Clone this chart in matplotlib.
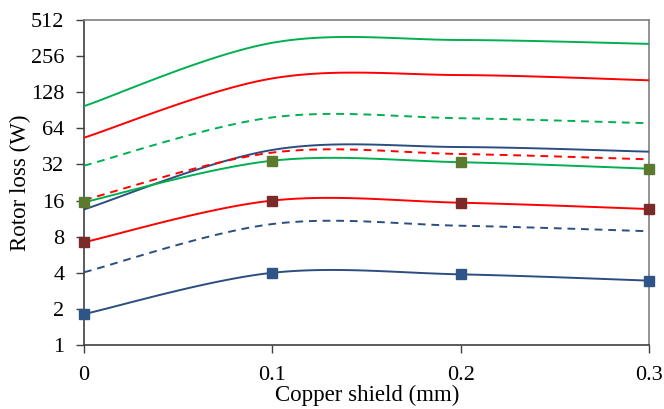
import numpy as np
import matplotlib
matplotlib.use("Agg")
import matplotlib.pyplot as plt

plt.rcParams['font.family'] = ['Liberation Serif', 'DejaVu Serif']

# copper shield thickness (mm)
shield = [0.0, 0.1, 0.2, 0.3]

# rotor loss (W)
green_top = [98, 331, 349, 324]
red_top = [53.5, 167, 178, 161]
green_dash = [31.3, 79, 77.7, 70.6]
blue_mid = [13.5, 42.3, 44.7, 40.9]
red_dash = [16.2, 40.2, 39.1, 35.3]
green_mark = [15.5, 34.4, 33.4, 29.5]
red_mark = [7.19, 16.0, 15.35, 13.6]
blue_dash = [4.04, 10.2, 9.87, 8.88]
blue_mark = [1.81, 4.0, 3.88, 3.44]

yticks = [1, 2, 4, 8, 16, 32, 64, 128, 256, 512]
xticks = [0, 0.1, 0.2, 0.3]

GREEN = '#00B050'
RED = '#FF0000'
BLUE = '#2C4D7F'


def smooth(xs, ys, n=40):
    # excel style bezier smoothing, done in (x, log2 y) space
    px = np.array(xs, float)
    py = np.log2(np.array(ys, float))
    outx, outy = [], []
    m = len(px)
    for i in range(m - 1):
        a = max(i - 1, 0)
        b = min(i + 2, m - 1)
        c1x = px[i] + (px[i + 1] - px[a]) / 6
        c1y = py[i] + (py[i + 1] - py[a]) / 6
        c2x = px[i + 1] - (px[b] - px[i]) / 6
        c2y = py[i + 1] - (py[b] - py[i]) / 6
        t = np.linspace(0, 1, n)
        bx = (1-t)**3*px[i] + 3*(1-t)**2*t*c1x + 3*(1-t)*t**2*c2x + t**3*px[i+1]
        by = (1-t)**3*py[i] + 3*(1-t)**2*t*c1y + 3*(1-t)*t**2*c2y + t**3*py[i+1]
        outx.extend(bx)
        outy.extend(by)
    return np.array(outx), 2 ** np.array(outy)


fig = plt.figure(figsize=(6.64, 4.09), dpi=100)
ax = fig.add_axes([0.1265, 0.1565, 0.8515, 0.7945])

series = [
    (green_top, GREEN, '-', None),
    (red_top, RED, '-', None),
    (green_dash, GREEN, (0, (4, 3)), None),
    (blue_mid, BLUE, '-', None),
    (red_dash, RED, (0, (4, 3)), None),
    (green_mark, GREEN, '-', '#5B7A2E'),
    (red_mark, RED, '-', '#7B2A2A'),
    (blue_dash, BLUE, (0, (4, 3)), None),
    (blue_mark, BLUE, '-', '#2E5488'),
]

for vals, col, ls, mcol in series:
    sx, sy = smooth(shield, vals)
    ax.plot(sx, sy, color=col, lw=1.4, ls=ls, zorder=3)
    if mcol:
        ax.plot(shield, vals, ls='none', marker='s', ms=6.5, color=mcol,
                zorder=4, clip_on=False)

ax.set_yscale('log', base=2)
ax.set_ylim(1, 512)
ax.set_xlim(0, 0.3)
ax.set_yticks(yticks)
ax.set_yticklabels([str(v) for v in yticks])
ax.set_xticks(xticks)
ax.set_xticklabels(['0', '0.1', '0.2', '0.3'])
ax.minorticks_off()
ax.tick_params(labelsize=16, length=6, width=1, color='#404040', direction='out')
ax.tick_params(axis='y', pad=8)
ax.tick_params(axis='x', pad=9)

for s in ['top', 'right']:
    ax.spines[s].set_color('#808080')
    ax.spines[s].set_linewidth(1.2)
for s in ['left', 'bottom']:
    ax.spines[s].set_color('#404040')
    ax.spines[s].set_linewidth(1.2)

ax.set_ylabel('Rotor loss (W)', fontsize=16.5, labelpad=0)
ax.set_xlabel('Copper shield (mm)', fontsize=16.5, labelpad=0)

fig.savefig('out.png', dpi=100)
